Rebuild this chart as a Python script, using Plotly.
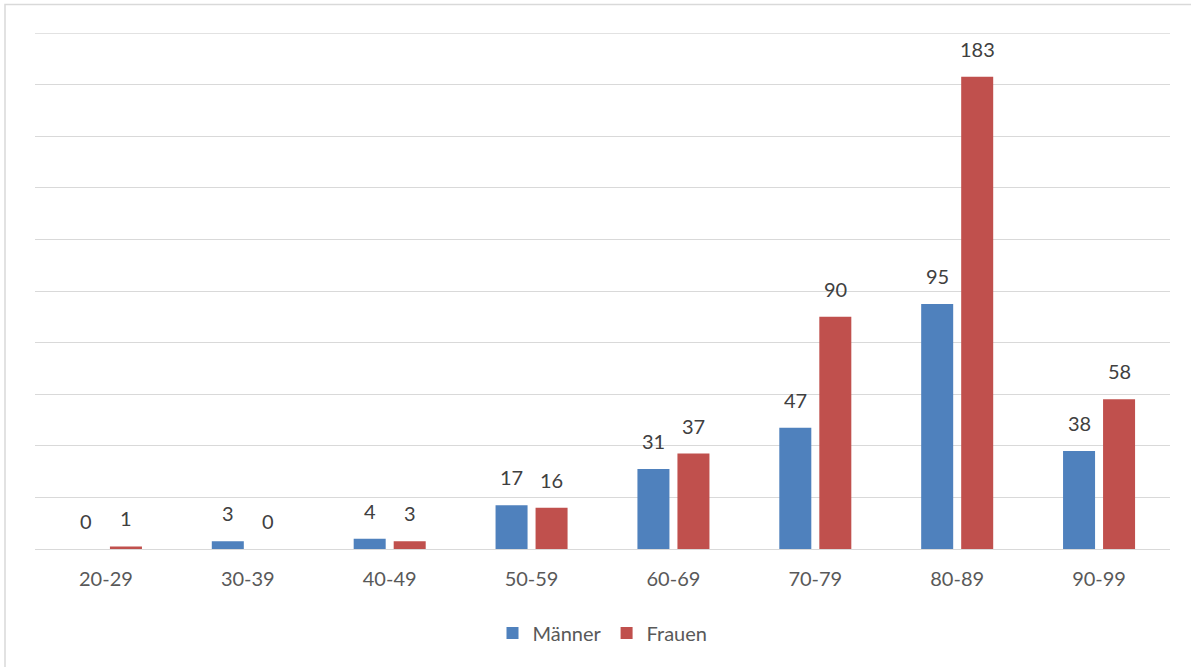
import plotly.graph_objects as go

# Altersgruppen und Fallzahlen nach Geschlecht
altersgruppen = ["20-29", "30-39", "40-49", "50-59", "60-69", "70-79", "80-89", "90-99"]
maenner = [0, 3, 4, 17, 31, 47, 95, 38]
frauen = [1, 0, 3, 16, 37, 90, 183, 58]

BLAU = "#4F81BD"
ROT = "#C0504D"
TEXT = "#595959"
LABEL = "#404040"
GRID = "#D9D9D9"
FONT = "Lato, Open Sans, sans-serif"

W, H = 1191, 667
L, R, T, B = 35, 21, 33, 118
pw, ph = W - L - R, H - T - B

fig = go.Figure()
serien = [("Männer", maenner, BLAU, -20), ("Frauen", frauen, ROT, 20)]
for name, vals, col, _ in serien:
    fig.add_trace(go.Bar(
        x=altersgruppen, y=vals, name=name,
        marker=dict(color=col, line=dict(width=0)),
    ))

# Datenbeschriftungen über den Balken
for name, vals, col, dx in serien:
    for kat, v in zip(altersgruppen, vals):
        fig.add_annotation(
            x=kat, y=v, text=str(v), showarrow=False,
            xshift=dx, yshift=14, yanchor="bottom",
            font=dict(size=20, color=LABEL, family=FONT),
        )

# Rahmen um das gesamte Diagramm
fig.add_shape(
    type="rect", xref="paper", yref="paper",
    x0=(5 - L) / pw, x1=(W + 4 - L) / pw,
    y0=(H - B - (H + 5)) / ph, y1=1 + (T - 4.5) / ph,
    line=dict(color="#D9D9D9", width=1.5), fillcolor="rgba(0,0,0,0)", layer="below",
)
# Oberste Gitterlinie (bei 200)
fig.add_shape(type="line", xref="paper", yref="y", x0=0, x1=1, y0=200, y1=200,
              line=dict(color=GRID, width=1.3), layer="below")

fig.update_layout(
    width=W, height=H,
    margin=dict(l=L, r=R, t=T, b=B),
    paper_bgcolor="white", plot_bgcolor="white",
    barmode="group", bargap=0.436, bargroupgap=0.2,
    showlegend=True,
    legend=dict(orientation="h", x=0.5, xanchor="center", y=(H - B - 633) / ph, yanchor="middle",
                font=dict(size=20, color=TEXT, family=FONT), traceorder="normal",
                itemwidth=30),
    font=dict(family=FONT, color=TEXT),
    xaxis=dict(showgrid=False, showline=False, ticks="", zeroline=False,
               tickfont=dict(size=20, color=TEXT, family=FONT), ticklabelstandoff=16),
    yaxis=dict(range=[0, 200], dtick=20, showgrid=True, gridcolor=GRID, gridwidth=1.3,
               zeroline=True, zerolinecolor=GRID, zerolinewidth=1.3,
               showticklabels=False, ticks="", showline=False),
)

fig.write_html("out.html")
